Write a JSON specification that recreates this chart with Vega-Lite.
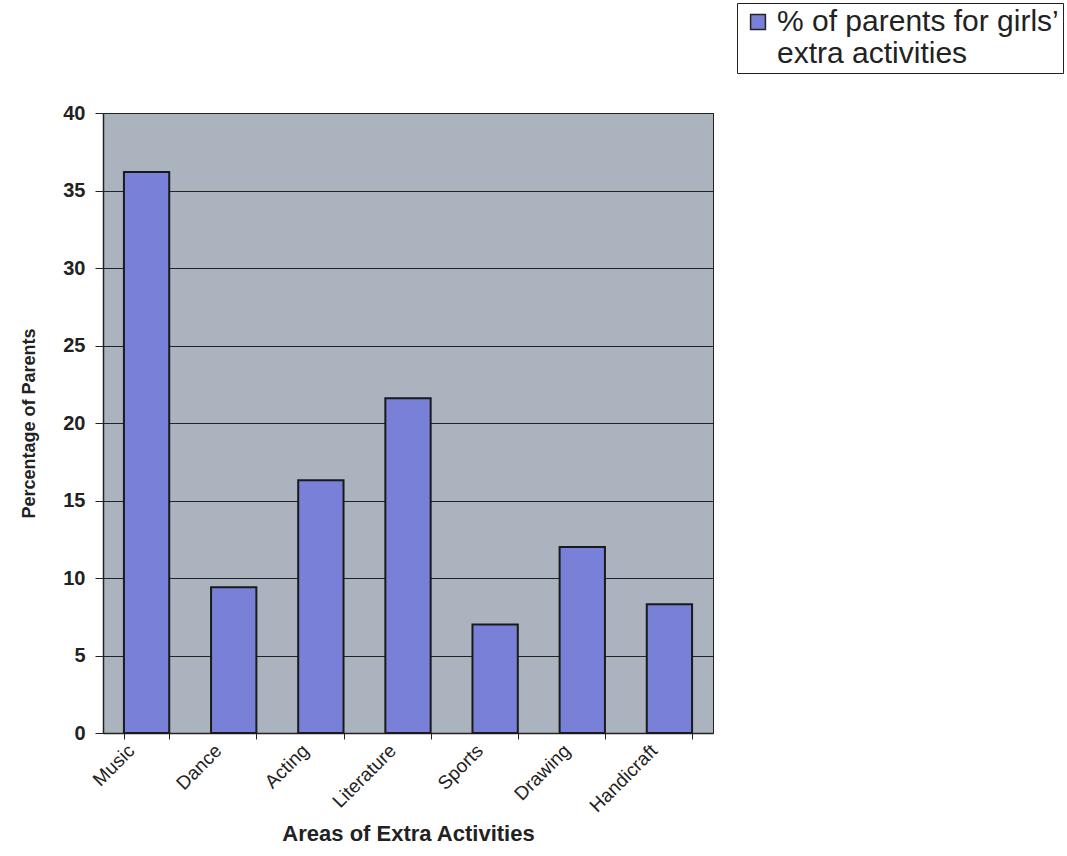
{
  "$schema": "https://vega.github.io/schema/vega-lite/v6.json",
  "autosize": "none",
  "width": 610,
  "height": 620,
  "padding": {"left": 103, "top": 113, "right": 354, "bottom": 123},
  "background": "#ffffff",
  "config": {
    "font": "Liberation Sans",
    "view": {"fill": "#abb4be", "stroke": "#222222", "strokeWidth": 1}
  },
  "data": {
    "values": [
      {"activity": "Music", "percent": 36.2},
      {"activity": "Dance", "percent": 9.4},
      {"activity": "Acting", "percent": 16.3},
      {"activity": "Literature", "percent": 21.6},
      {"activity": "Sports", "percent": 7.0},
      {"activity": "Drawing", "percent": 12.0},
      {"activity": "Handicraft", "percent": 8.3}
    ]
  },
  "mark": {"type": "bar", "stroke": "#1a1a1a", "strokeWidth": 2},
  "encoding": {
    "x": {
      "field": "activity",
      "type": "nominal",
      "sort": null,
      "scale": {"paddingInner": 0.48, "paddingOuter": 0.24},
      "axis": {
        "title": "Areas of Extra Activities",
        "titleFont": "Liberation Sans",
        "titleFontSize": 22,
        "titleFontWeight": "bold",
        "titleColor": "#222222",
        "titlePadding": 8,
        "labelAngle": -45,
        "labelFontSize": 19,
        "labelColor": "#222222",
        "labelPadding": 2,
        "labelOffset": -22,
        "tickBand": "extent",
        "tickColor": "#222222",
        "tickSize": 6,
        "domainColor": "#222222",
        "domainWidth": 1.5
      }
    },
    "y": {
      "field": "percent",
      "type": "quantitative",
      "scale": {"domain": [0, 40]},
      "axis": {
        "title": "Percentage of Parents",
        "titleFontSize": 18,
        "titleFontWeight": "bold",
        "titleColor": "#222222",
        "titlePadding": 24,
        "values": [0, 5, 10, 15, 20, 25, 30, 35, 40],
        "labelFontSize": 20,
        "labelFontWeight": "bold",
        "labelColor": "#222222",
        "labelPadding": 10,
        "tickColor": "#222222",
        "tickSize": 8,
        "domainColor": "#222222",
        "domainWidth": 1.5,
        "grid": true,
        "gridColor": "#222222",
        "gridWidth": 1.2
      }
    },
    "color": {
      "datum": "% of parents for girls' extra activities",
      "type": "nominal",
      "scale": {"range": ["#7880d8"]},
      "legend": {
        "title": null,
        "orient": "none",
        "legendX": 634,
        "legendY": -110,
        "symbolType": "square",
        "symbolSize": 220,
        "symbolStrokeColor": "#222222",
        "symbolStrokeWidth": 1.5,
        "symbolOffset": 2,
        "labelFontSize": 30,
        "labelColor": "#222222",
        "labelLimit": 600,
        "labelOffset": 4,
        "labelExpr": "['% of parents for girls’', 'extra activities']",
        "strokeColor": "#222222",
        "fillColor": "#ffffff",
        "padding": 4
      }
    }
  }
}
